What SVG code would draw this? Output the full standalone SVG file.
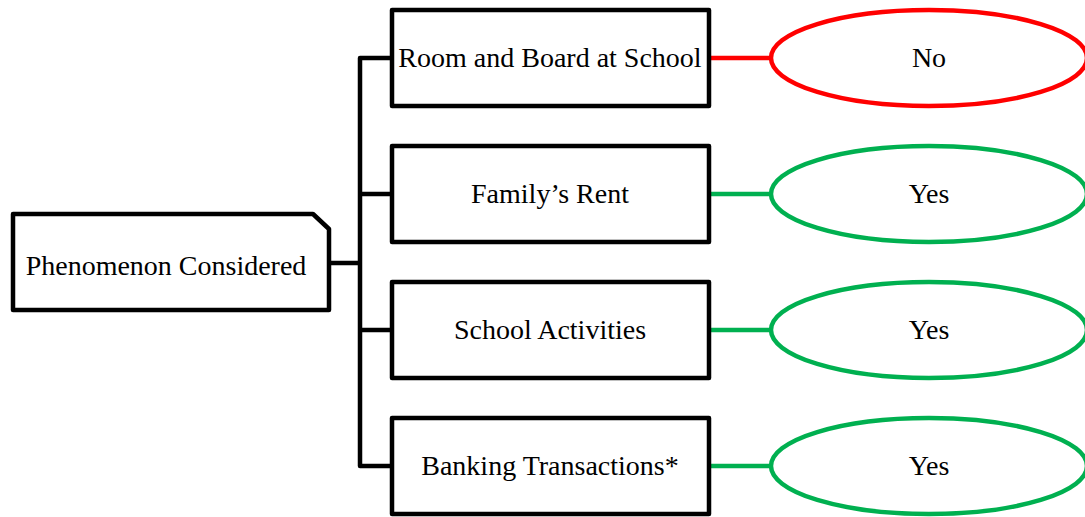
<svg xmlns="http://www.w3.org/2000/svg" width="1085" height="517" viewBox="0 0 1085 517">
<style>
.box{fill:#fff;stroke:#000;stroke-width:4.5;stroke-linejoin:round}
.t{font-family:"Liberation Serif","Times New Roman",serif;font-size:28px;fill:#000;text-anchor:middle}
.tree{fill:none;stroke:#000;stroke-width:4.5;stroke-linejoin:round}
.red{stroke:#FF0000;stroke-width:4.5;fill:none}
.green{stroke:#00B050;stroke-width:4.5;fill:none}
.ered{fill:#fff;stroke:#FF0000;stroke-width:4.5}
.egreen{fill:#fff;stroke:#00B050;stroke-width:4.5}
</style>
<rect width="1085" height="517" fill="#fff"/>
<g id="connectors">
<path class="tree" d="M329,263 H360 M391,58 H360 V466 H391 M360,194 H391 M360,330 H391"/>
<path class="red" d="M709,58 H771"/>
<path class="green" d="M709,194 H771 M709,330 H771 M709,466 H771"/>
</g>
<g id="root">
<path class="box" d="M13,214 H313 L329,229 V310 H13 Z"/>
<text class="t" x="166" y="275">Phenomenon Considered</text>
</g>
<g id="room">
<rect class="box" x="392" y="10" width="317" height="96"/>
<text class="t" x="550" y="67">Room and Board at School</text>
</g>
<g id="rent">
<rect class="box" x="392" y="146" width="317" height="96"/>
<text class="t" x="550" y="203">Family’s Rent</text>
</g>
<g id="activities">
<rect class="box" x="392" y="282" width="317" height="96"/>
<text class="t" x="550" y="339">School Activities</text>
</g>
<g id="banking">
<rect class="box" x="392" y="418" width="317" height="96"/>
<text class="t" x="550" y="475">Banking Transactions*</text>
</g>
<g id="no">
<ellipse class="ered" cx="929" cy="58" rx="158" ry="48"/>
<text class="t" x="929" y="67">No</text>
</g>
<g id="yes1">
<ellipse class="egreen" cx="929" cy="194" rx="158" ry="48"/>
<text class="t" x="929" y="203">Yes</text>
</g>
<g id="yes2">
<ellipse class="egreen" cx="929" cy="330" rx="158" ry="48"/>
<text class="t" x="929" y="339">Yes</text>
</g>
<g id="yes3">
<ellipse class="egreen" cx="929" cy="466" rx="158" ry="48"/>
<text class="t" x="929" y="475">Yes</text>
</g>
</svg>
